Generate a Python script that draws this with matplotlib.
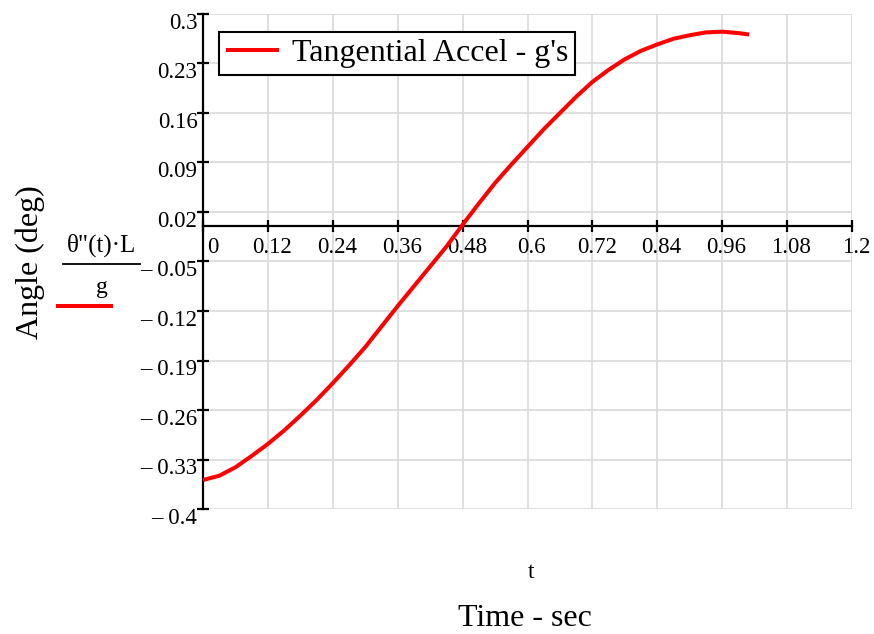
import matplotlib
matplotlib.use("Agg")
import matplotlib.pyplot as plt
import matplotlib.transforms as mtransforms
from matplotlib.lines import Line2D

plt.rcParams['font.family'] = ['Liberation Serif', 'DejaVu Serif']

# values (every 0.03 s)
t_vals = [0.0, 0.03, 0.06, 0.09, 0.12, 0.15, 0.18, 0.21, 0.24, 0.27,
          0.30, 0.33, 0.36, 0.39, 0.42, 0.45, 0.48, 0.51, 0.54, 0.57,
          0.60, 0.63, 0.66, 0.69, 0.72, 0.75, 0.78, 0.81, 0.84, 0.87,
          0.90, 0.93, 0.96, 0.99, 1.01]
accel = [-0.359, -0.353, -0.341, -0.325, -0.308, -0.289, -0.268, -0.246, -0.222, -0.197,
         -0.171, -0.142, -0.113, -0.085, -0.057, -0.029, 0.002, 0.032, 0.061, 0.087,
         0.112, 0.137, 0.160, 0.183, 0.204, 0.221, 0.236, 0.248, 0.257, 0.265,
         0.270, 0.274, 0.275, 0.273, 0.271]

x_ticks = [0, 0.12, 0.24, 0.36, 0.48, 0.6, 0.72, 0.84, 0.96, 1.08, 1.2]
y_ticks = [-0.4, -0.33, -0.26, -0.19, -0.12, -0.05, 0.02, 0.09, 0.16, 0.23, 0.3]

W, H = 874, 634
fig = plt.figure(figsize=(W / 100, H / 100), dpi=100)
ax = fig.add_axes([203 / W, 1 - 509 / H, (852 - 203) / W, (509 - 14) / H])

ax.plot(t_vals, accel, color='red', lw=2.9, solid_capstyle='butt', solid_joinstyle='round',
        label="Tangential Accel - g's", zorder=3)

ax.set_xlim(0, 1.2)
ax.set_ylim(-0.4, 0.3)
ax.set_xticks(x_ticks)
ax.set_yticks(y_ticks)
ax.set_xticklabels([f"{v:g}" for v in x_ticks])
ax.set_yticklabels([(f"\u2013 {abs(v):g}" if v < 0 else f"{v:g}") for v in y_ticks])
ax.grid(True, color='#d9d9d9', lw=1.2, zorder=0)

for s in ['top', 'right']:
    ax.spines[s].set_visible(False)
ax.spines['bottom'].set_position(('data', 0))
ax.spines['bottom'].set_linewidth(1.6)
ax.spines['left'].set_linewidth(1.6)

ax.tick_params(axis='both', direction='inout', length=8, width=1.6, labelsize=16.5, colors='black')
ax.tick_params(axis='x', pad=4)
ax.tick_params(axis='y', pad=0)

# nudge tick labels like the reference
for lbl in ax.get_xticklabels():
    dx = 7 / 72 if lbl.get_text() == "0" else 3 / 72
    lbl.set_transform(lbl.get_transform() + mtransforms.ScaledTranslation(dx, 0, fig.dpi_scale_trans))
for lbl in ax.get_yticklabels():
    lbl.set_transform(lbl.get_transform() + mtransforms.ScaledTranslation(0, -5 / 72, fig.dpi_scale_trans))

leg = ax.legend(loc='upper left', bbox_to_anchor=(16 / 649, (509 - 31.7) / 495), borderaxespad=0,
                fontsize=23, fancybox=False, framealpha=1, edgecolor='black',
                handlelength=1.65, handletextpad=0.4, borderpad=0.22)
leg.get_frame().set_linewidth(1.5)

# axis labels, Mathcad style
fig.text(30 / W, 1 - 262 / H, "Angle (deg)", rotation=90, fontsize=23, ha='center', va='center')
fig.text(102 / W, 1 - 245 / H, "\u03b8\"(t)\u00b7L", fontsize=18, ha='center', va='center')
fig.add_artist(Line2D([63 / W, 140 / W], [1 - 264 / H, 1 - 264 / H], color='black', lw=1.3))
fig.text(102 / W, 1 - 287 / H, "g", fontsize=17, ha='center', va='center')
fig.add_artist(Line2D([58 / W, 111 / W], [1 - 306 / H, 1 - 306 / H], color='red', lw=2.9))

fig.text(531 / W, 1 - 573 / H, "t", fontsize=17, ha='center', va='center')
fig.text(525 / W, 1 - 619 / H, "Time - sec", fontsize=23, ha='center', va='center')

fig.savefig("out.png", dpi=100)
